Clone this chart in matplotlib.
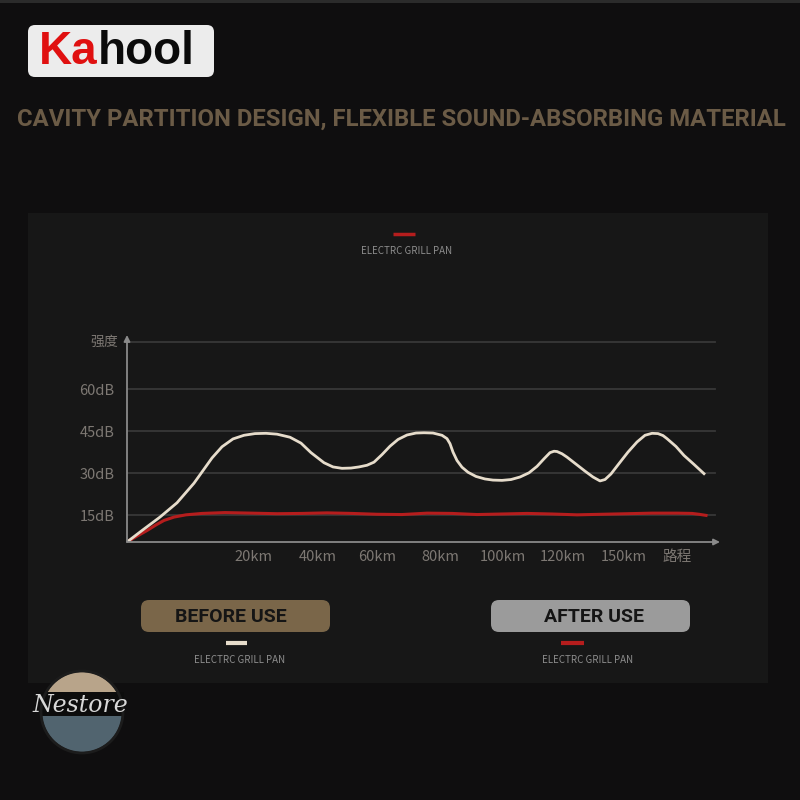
import matplotlib.pyplot as plt
from matplotlib.patches import FancyBboxPatch, Rectangle, Wedge, Circle

plt.rcParams['font.family'] = ['Noto Sans CJK SC', 'DejaVu Sans']

# chart data (x = distance along the axis, y = dB)
before_x = [0, 15, 33, 50, 67, 76, 85, 95, 106, 117, 128, 139, 150, 163, 174, 184, 197,
            206, 215, 224, 232, 240, 247, 255, 263, 271, 280, 289, 297, 306, 315, 320,
            323, 326, 330, 335, 341, 349, 358, 366, 375, 384, 393, 402, 410, 417, 423,
            427, 430, 435, 440, 449, 458, 466, 473, 478, 484, 492, 501, 510, 518, 525,
            531, 536, 540, 549, 557, 567, 577]
before_y = [5.5, 9.6, 14.4, 19.5, 26.5, 31.0, 35.5, 39.5, 42.3, 43.6, 44.2, 44.3, 44.0,
            42.9, 40.8, 37.4, 33.8, 32.3, 31.8, 31.9, 32.3, 32.9, 34.0, 36.7, 39.7, 42.1,
            43.7, 44.4, 44.5, 44.4, 43.6, 42.4, 40.6, 37.6, 34.6, 32.2, 30.4, 28.9, 28.0,
            27.6, 27.5, 27.8, 28.7, 30.2, 32.5, 35.2, 37.4, 37.9, 37.8, 37.0, 35.8, 33.3,
            30.8, 28.7, 27.3, 27.8, 29.8, 33.5, 37.6, 41.2, 43.6, 44.3, 44.2, 43.5, 42.4,
            39.6, 36.4, 33.2, 29.9]
after_x = [0, 10, 20, 29, 37, 47, 59, 75, 98, 125, 150, 175, 200, 225, 250, 275, 300,
           325, 350, 375, 400, 425, 450, 475, 500, 525, 550, 565, 572, 579]
after_y = [5.5, 7.6, 9.6, 11.6, 13.2, 14.4, 15.2, 15.7, 16.0, 15.8, 15.6, 15.7, 15.9,
           15.7, 15.4, 15.3, 15.8, 15.7, 15.3, 15.5, 15.7, 15.5, 15.2, 15.4, 15.6, 15.8,
           15.8, 15.7, 15.4, 15.0]

y_ticks = [15, 30, 45, 60]
y_labels = ['15dB', '30dB', '45dB', '60dB']
x_ticks = [126, 191, 250, 313, 376, 436, 497, 550]
x_labels = ['20km', '40km', '60km', '80km', '100km', '120km', '150km', '路程']

BG = '#0f0e0f'
PANEL = '#171717'
CREAM = '#e6dccb'
RED = '#b51d1d'
LABEL = '#7d7873'
SMALL = '#8c8c8c'

fig = plt.figure(figsize=(8, 8), dpi=100)
fig.patch.set_facecolor(BG)
over = fig.add_axes([0, 0, 1, 1])
over.set_xlim(0, 800)
over.set_ylim(800, 0)
over.axis('off')

# top thin strip
over.add_patch(Rectangle((0, 0), 800, 3, color='#2b2b2b', lw=0))

# Kahool logo
over.add_patch(FancyBboxPatch((28, 25), 186, 52, boxstyle='round,pad=0,rounding_size=7',
                              fc='#ececec', ec='none'))
ka = over.text(39, 52, 'Ka', color='#e01010', fontsize=33, fontweight='bold',
               family='Liberation Sans', va='center', ha='left')
over.annotate('hool', xy=(1, 0.5), xycoords=ka, color='#0a0a0a', fontsize=33,
              fontweight='bold', family='Liberation Sans', va='center', ha='left')

# headline
over.text(401, 119, 'CAVITY PARTITION DESIGN, FLEXIBLE SOUND-ABSORBING MATERIAL',
          color='#6b5b46', fontsize=17.2, fontweight='bold', family='Roboto',
          va='center', ha='center')

# chart panel
over.add_patch(Rectangle((28, 213), 740, 470, color=PANEL, lw=0))

# top legend
over.plot([393, 415], [234, 234], color=RED, lw=2.5, solid_capstyle='butt')
over.text(407, 251, 'ELECTRC GRILL PAN', color=SMALL, fontsize=7, va='center', ha='center')

# buttons
over.add_patch(FancyBboxPatch((141, 600), 189, 32, boxstyle='round,pad=0,rounding_size=8',
                              fc='#7a6649', ec='none'))
over.text(231, 617, 'BEFORE USE', color='#151515', fontsize=14, fontweight='bold',
          family='Roboto', va='center', ha='center')
over.add_patch(FancyBboxPatch((491, 600), 199, 32, boxstyle='round,pad=0,rounding_size=8',
                              fc='#9b9b9b', ec='none'))
over.text(594, 617, 'AFTER USE', color='#151515', fontsize=14, fontweight='bold',
          family='Roboto', va='center', ha='center')
over.plot([226, 247], [643, 643], color=CREAM, lw=3, solid_capstyle='butt')
over.text(240, 660, 'ELECTRC GRILL PAN', color=SMALL, fontsize=7, va='center', ha='center')
over.plot([561, 584], [643, 643], color=RED, lw=3, solid_capstyle='butt')
over.text(588, 660, 'ELECTRC GRILL PAN', color=SMALL, fontsize=7, va='center', ha='center')

# nestore badge (y axis is inverted here, so the upper half is 180..360)
over.add_patch(Wedge((82, 712), 40, 180, 360, fc='#b8a48a', ec='none'))
over.add_patch(Wedge((82, 712), 40, 0, 180, fc='#51646f', ec='none'))
over.add_patch(Rectangle((40, 692), 84, 24, color='#0c0c0c', lw=0))
over.add_patch(Circle((82, 712), 41, fc='none', ec='#1c1c1c', lw=2))
over.text(80, 706, 'Nestore', color='#d8d8d8', fontsize=17, style='italic',
          family='DejaVu Serif', va='center', ha='center')

# chart axes
ax = fig.add_axes([127 / 800, 258 / 800, 593 / 800, 207 / 800])
ax.set_facecolor('none')
ax.set_xlim(0, 593)
ax.set_ylim(5.5, 79.4)
for s in ax.spines.values():
    s.set_visible(False)

for g in y_ticks + [77]:
    ax.plot([0, 588], [g, g], color='#383838', lw=1.3, zorder=1)

ax.plot(after_x, after_y, color=RED, lw=2.2, zorder=3, solid_joinstyle='round')
ax.plot(before_x, before_y, color=CREAM, lw=2.0, zorder=4, solid_joinstyle='round')

# axis lines with arrow heads
ax.annotate('', xy=(0, 1.0), xytext=(0, 0), xycoords='axes fraction',
            arrowprops=dict(arrowstyle='-|>', color='#8a8a8a', lw=1.3,
                            mutation_scale=9, shrinkA=0, shrinkB=0), zorder=5)
ax.annotate('', xy=(1.0, 0), xytext=(0, 0), xycoords='axes fraction',
            arrowprops=dict(arrowstyle='-|>', color='#8a8a8a', lw=1.3,
                            mutation_scale=9, shrinkA=0, shrinkB=0), zorder=5)

ax.set_yticks(y_ticks)
ax.set_yticklabels(y_labels)
ax.set_xticks(x_ticks)
ax.set_xticklabels(x_labels)
ax.tick_params(length=0, colors=LABEL, labelsize=10.5)
ax.tick_params(axis='y', pad=9)
ax.tick_params(axis='x', pad=6)
ax.text(-9, 77, '强度', color=LABEL, fontsize=10, ha='right', va='center')

fig.savefig('out.png', dpi=100, facecolor=BG)
